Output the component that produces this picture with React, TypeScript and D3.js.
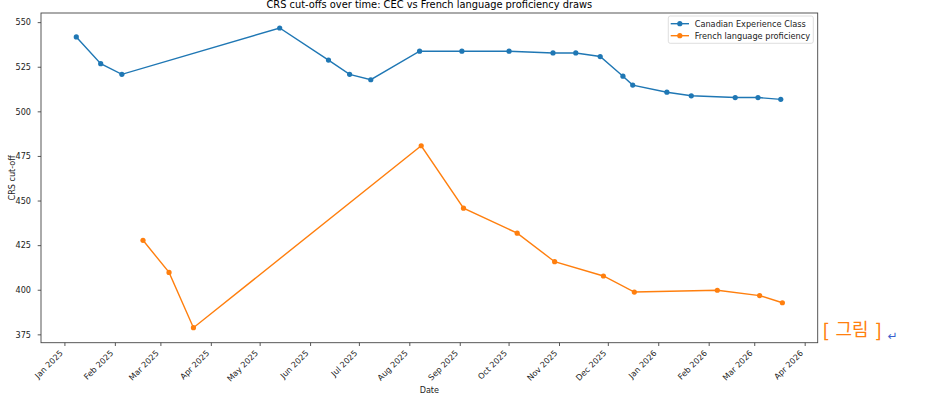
import React from "react";
import * as d3 from "d3";

const cecDates = [
  "2025-01-08", "2025-01-23", "2025-02-05", "2025-05-13", "2025-06-12", "2025-06-25",
  "2025-07-08", "2025-08-07", "2025-09-02", "2025-10-01", "2025-10-28", "2025-11-11",
  "2025-11-26", "2025-12-10", "2025-12-16", "2026-01-06", "2026-01-21", "2026-02-17",
  "2026-03-03", "2026-03-17",
];
const cecValues = [542, 527, 521, 547, 529, 521, 518, 534, 534, 534, 533, 533, 531, 520, 515, 511, 509, 508, 508, 507];

const frDates = [
  "2025-02-18", "2025-03-06", "2025-03-21", "2025-08-08", "2025-09-03", "2025-10-06",
  "2025-10-29", "2025-11-28", "2025-12-17", "2026-02-06", "2026-03-04", "2026-03-18",
];
const frValues = [428, 410, 379, 481, 446, 432, 416, 408, 399, 400, 397, 393];

const yTicks = [375, 400, 425, 450, 475, 500, 525, 550];
const seriesNames = ["Canadian Experience Class", "French language proficiency"];
const colors = ["#1f77b4", "#ff7f0e"];
const title = "CRS cut-offs over time: CEC vs French language proficiency draws";

const parse = d3.timeParse("%Y-%m-%d");
const fmt = d3.timeFormat("%b %Y");

export default function App() {
  const W = 927, H = 402;
  const left = 41, right = 817.7, top = 13, bottom = 342.7;
  const font = "DejaVu Sans, sans-serif";
  const kr = "'Noto Sans CJK KR', sans-serif";

  const cec = cecDates.map((d, i) => ({ d: parse(d) as Date, v: cecValues[i] }));
  const fr = frDates.map((d, i) => ({ d: parse(d) as Date, v: frValues[i] }));
  const all = [...cec, ...fr];
  const [dMin, dMax] = d3.extent(all, (p) => +p.d) as [number, number];
  const dPad = (dMax - dMin) * 0.05;
  const [vMin, vMax] = d3.extent(all, (p) => p.v) as [number, number];
  const vPad = (vMax - vMin) * 0.05;

  const x = d3.scaleTime().domain([new Date(dMin - dPad), new Date(dMax + dPad)]).range([left, right]);
  const y = d3.scaleLinear().domain([vMin - vPad, vMax + vPad]).range([bottom, top]);
  const xTicks = x.ticks(d3.timeMonth.every(1) as any);

  const line = d3.line<{ d: Date; v: number }>().x((p) => x(p.d)).y((p) => y(p.v));
  const series = [cec, fr];

  return (
    <svg width={W} height={H} style={{ position: "absolute", left: 0, top: 0, background: "#fff" }}>
      <rect x={0} y={0} width={W} height={H} fill="#fff" />
      <text x={(left + right) / 2} y={8} textAnchor="middle" fontFamily={font} fontSize={9.85} fill="#000">
        {title}
      </text>
      {series.map((s, i) => (
        <g key={i}>
          <path d={line(s) || ""} fill="none" stroke={colors[i]} strokeWidth={1.4} />
          {s.map((p, j) => (
            <circle key={j} cx={x(p.d)} cy={y(p.v)} r={2.6} fill={colors[i]} />
          ))}
        </g>
      ))}
      <rect x={left} y={top} width={right - left} height={bottom - top} fill="none" stroke="#444" strokeWidth={0.9} />
      {yTicks.map((t) => (
        <g key={t}>
          <line x1={left - 3.3} x2={left} y1={y(t)} y2={y(t)} stroke="#444" strokeWidth={0.9} />
          <text x={31} y={y(t)} dy="0.35em" textAnchor="end" fontFamily={font} fontSize={8.1} fill="#222">
            {t}
          </text>
        </g>
      ))}
      {xTicks.map((t, i) => {
        const tx = x(t);
        return (
          <g key={i}>
            <line x1={tx} x2={tx} y1={bottom} y2={bottom + 3.3} stroke="#444" strokeWidth={0.9} />
            <text
              transform={`translate(${tx - 1.5},${bottom + 11}) rotate(-45)`}
              textAnchor="end"
              fontFamily={font}
              fontSize={8.1}
              fill="#222"
            >
              {fmt(t)}
            </text>
          </g>
        );
      })}
      <text x={(left + right) / 2} y={393} textAnchor="middle" fontFamily={font} fontSize={8.1} fill="#222">
        Date
      </text>
      <text
        transform={`translate(14.5,${(top + bottom) / 2}) rotate(-90)`}
        textAnchor="middle"
        fontFamily={font}
        fontSize={8.1}
        fill="#222"
      >
        CRS cut-off
      </text>
      <g>
        <rect x={668.3} y={16} width={145} height={27.3} rx={2} fill="#fff" fillOpacity={0.8} stroke="#d5d5d5" strokeWidth={0.8} />
        {seriesNames.map((n, i) => {
          const ly = 23.7 + i * 12;
          return (
            <g key={n}>
              <line x1={670.7} x2={689} y1={ly} y2={ly} stroke={colors[i]} strokeWidth={1.4} />
              <circle cx={679.8} cy={ly} r={2.6} fill={colors[i]} />
              <text x={694.7} y={ly} dy="0.35em" fontFamily={font} fontSize={8.2} fill="#222">
                {n}
              </text>
            </g>
          );
        })}
      </g>
      <g fill="#ff7f0e" fontFamily={kr}>
        <text x={822.5} y={336.5} fontSize={18} fontWeight={500}>[</text>
        <text x={835.5} y={336} fontSize={18} fontWeight={400}>그림</text>
        <text x={875.5} y={336.5} fontSize={18} fontWeight={500}>]</text>
      </g>
      <text x={887.5} y={340} fontFamily={font} fontSize={12} fill="#3a5fcd">
        ↵
      </text>
    </svg>
  );
}
